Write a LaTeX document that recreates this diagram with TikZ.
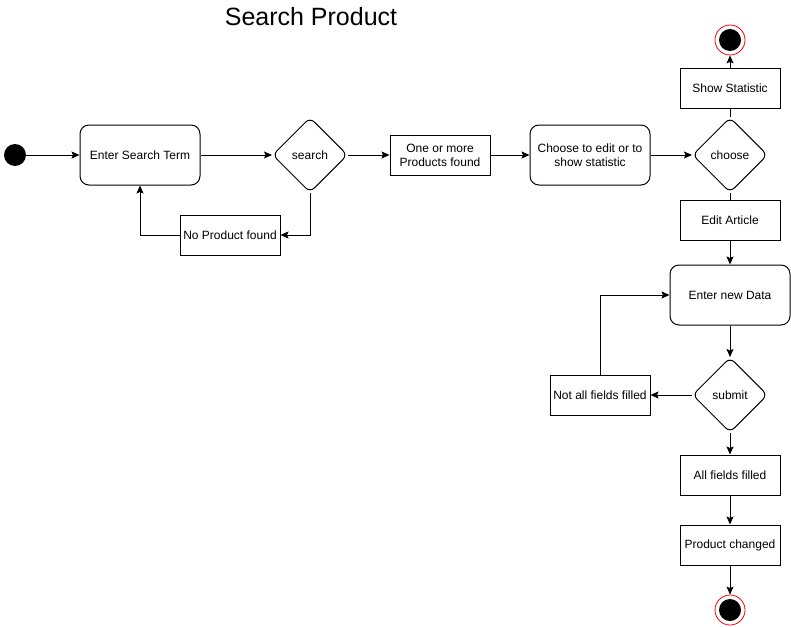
\documentclass[tikz,border=0pt]{standalone}
\usepackage{fontspec}
\setmainfont{Liberation Sans}
\usetikzlibrary{arrows.meta,shapes.geometric}

\tikzset{
	flow/.style={line width=1pt, -{Stealth[length=8pt,width=7pt,inset=1.5pt]}},
	plain/.style={line width=1pt},
	actbox/.style={draw, line width=1pt, rounded corners=9pt, minimum width=120pt, minimum height=60pt, align=center, inner sep=2pt},
	statebox/.style={draw, line width=1pt, minimum width=100pt, minimum height=40pt, align=center, inner sep=2pt},
	choice/.style={draw, line width=1pt, diamond, rounded corners=6pt, minimum width=75pt, minimum height=75pt, inner sep=0pt},
	startdot/.style={circle, fill=black, minimum size=22pt, inner sep=0pt},
	endring/.style={circle, draw=red, line width=0.8pt, minimum size=30pt, inner sep=0pt},
	enddot/.style={circle, fill=black, minimum size=22pt, inner sep=0pt}
}

\begin{document}
\begin{tikzpicture}[x=1pt, y=-1pt, font=\fontsize{12}{14}\selectfont]
			%%%%% START %%%%%
			\useasboundingbox (0, 0) rectangle (791, 626);
			
			\node[font=\fontsize{25}{29}\selectfont] (title) at (311, 17) {Search Product};
			
			\node[startdot] (start) at (15, 155) {};
			\node[actbox] (term) at (140, 155) {Enter Search Term};
			\node[choice] (search) at (310, 155) {search};
			\node[statebox] (none) at (230, 235) {No Product found};
			\node[statebox] (found) at (440, 155) {One or more\\Products found};
			\node[actbox] (pick) at (590, 155) {Choose to edit or to\\show statistic};
			\node[choice] (choose) at (730, 155) {choose};
			\node[statebox] (stat) at (730, 88) {Show Statistic};
			\node[endring] (endA) at (730, 40) {};
			\node[enddot] at (endA) {};
			\node[statebox] (edit) at (730, 220) {Edit Article};
			\node[actbox] (data) at (730, 295) {Enter new Data};
			\node[choice] (submit) at (730, 395) {submit};
			\node[statebox] (missing) at (600, 395) {Not all fields filled};
			\node[statebox] (filled) at (730, 475) {All fields filled};
			\node[statebox] (changed) at (730, 545) {Product changed};
			\node[endring] (endB) at (730, 610) {};
			\node[enddot] at (endB) {};
			
			\draw[flow] (start) -- (term);
			\draw[flow] (term) -- (search);
			\draw[flow] (search) -- (found);
			\draw[flow] (search.south) |- (none.east);
			\draw[flow] (none.west) -| (term.south);
			\draw[flow] (found) -- (pick);
			\draw[flow] (pick) -- (choose);
			\draw[plain] (choose.north) -- (stat.south);
			\draw[flow] (stat.north) -- (endA);
			\draw[plain] (choose.south) -- (edit.north);
			\draw[flow] (edit) -- (data);
			\draw[flow] (data) -- (submit);
			\draw[flow] (submit) -- (missing);
			\draw[flow] (missing.north) |- (data.west);
			\draw[flow] (submit) -- (filled);
			\draw[flow] (filled) -- (changed);
			\draw[flow] (changed) -- (endB);
			%%%%% END %%%%%
		\end{tikzpicture}
\end{document}
